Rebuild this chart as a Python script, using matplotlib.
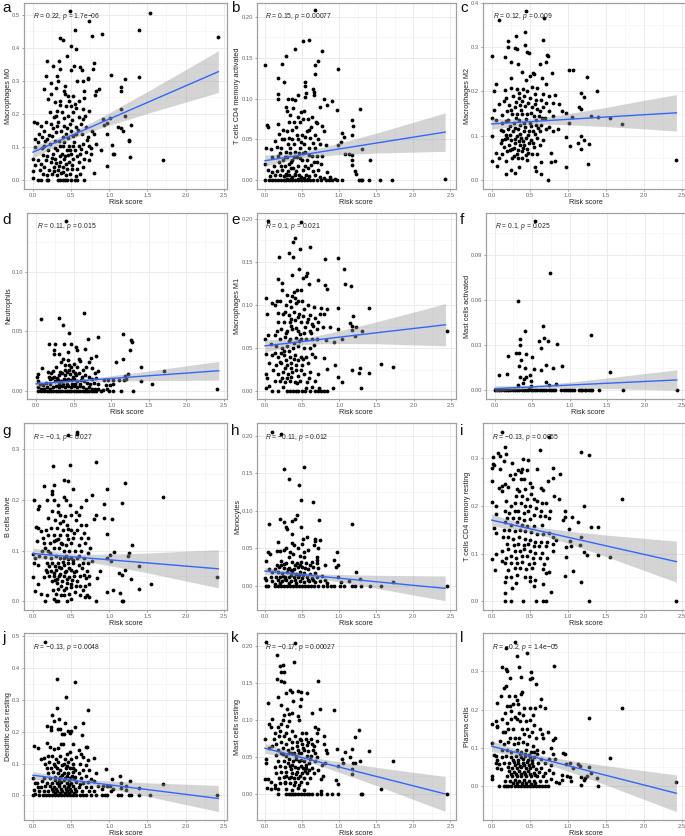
#!/usr/bin/env python3
"""Immune cell fractions against risk score, twelve scatter panels with linear fits."""

import matplotlib

matplotlib.use("Agg")
import matplotlib.pyplot as plt  # noqa: E402

plt.rcParams["font.family"] = ["Liberation Sans", "DejaVu Sans"]
plt.rcParams["mathtext.fontset"] = "custom"
plt.rcParams["mathtext.rm"] = "Liberation Sans"
plt.rcParams["mathtext.it"] = "Liberation Sans:italic"

fit_x = [0.0, 0.25, 0.5, 0.75, 1.0, 1.5, 2.0, 2.43]
x_ticks = [0.0, 0.5, 1.0, 1.5, 2.0, 2.5]

a_points = [
    (.485, .512), (1.54, .506), (.735, .481), (.546, .454), (1.39, .455), (.90, .441), (.78, .435), (.36, .43),
    (.39, .423), (2.42, .432), (.494, .405), (.57, .397), (.44, .376), (.19, .361), (.336, .359), (.795, .355),
    (.26, .346), (.54, .346), (.62, .341), (.354, .337), (.50, .333), (.64, .333), (.787, .335), (1.02, .319),
    (1.39, .312), (.175, .315), (.32, .315), (.72, .31), (1.21, .306), (1.16, .283), (1.16, .27), (.87, .276),
    (.83, .27), (.81, .259), (.14, .277), (1.15, .215), (1.205, .193), (.92, .184), (1.01, .187), (.965, .174),
    (.935, .166), (1.12, .162), (1.16, .158), (1.29, .167), (1.175, .148), (.97, .139), (1.03, .107),
    (1.255, .122), (1.26, .119), (1.065, .08), (1.055, .078), (1.275, .071), (1.705, .061), (.97, .042),
    (.80, .023), (.89, .09), (.23, .295), (.33, .30), (.42, .285), (.40, .27), (.46, .255), (.52, .255),
    (.58, .30), (.65, .30), (.67, .27), (.72, .305), (.30, .28), (.20, .245), (.23, .26), (.36, .24), (.43, .225),
    (.50, .225), (.55, .23), (.60, .24), (.65, .215), (.74, .21), (.68, .195), (.60, .19), (.53, .205),
    (.46, .195), (.38, .205), (.32, .21), (.22, .205), (.27, .19), (.17, .175), (.01, .175), (.05, .172),
    (.11, .165), (.15, .15), (.24, .17), (.33, .175), (.41, .165), (.48, .17), (.56, .16), (.63, .17),
    (.70, .16), (.77, .15), (.80, .14), (.72, .13), (.64, .14), (.57, .14), (.50, .15), (.43, .14), (.37, .15),
    (.30, .145), (.25, .135), (.18, .125), (.12, .13), (.08, .14), (.03, .125), (.02, .10), (.07, .115),
    (.15, .105), (.22, .11), (.29, .12), (.35, .105), (.41, .115), (.47, .105), (.54, .115), (.60, .105),
    (.66, .11), (.73, .105), (.83, .11), (.76, .08), (.69, .085), (.62, .08), (.55, .09), (.50, .08),
    (.44, .09), (.38, .08), (.32, .09), (.26, .08), (.20, .09), (.13, .075), (.07, .06), (.0, .065), (.03, .045),
    (.11, .05), (.17, .06), (.23, .055), (.29, .065), (.35, .055), (.41, .065), (.47, .055), (.53, .065),
    (.60, .055), (.67, .065), (.74, .06), (.65, .04), (.58, .035), (.51, .045), (.45, .035), (.39, .04),
    (.33, .03), (.27, .04), (.21, .03), (.15, .04), (.09, .03), (.0, .028), (.0, .006), (.13, .02), (.19, .015),
    (.25, .02), (.31, .015), (.37, .022), (.43, .015), (.49, .02), (.56, .012), (.62, .02), (.07, 0), (.10, 0),
    (.18, 0), (.20, 0), (.33, 0), (.36, 0), (.39, 0), (.42, 0), (.45, 0), (.50, 0), (.55, 0), (.58, 0), (.67, 0),
    (.415, .073), (.347, .118), (.462, .128), (.283, .098), (.188, .073), (.518, .103), (.357, .072), (.428, .048),
    (.305, .052), (.243, .067), (.481, .092), (.394, .103), (.337, .043), (.453, .077), (.272, .027), (.392, .026),
    (.515, .033), (.577, .073), (.623, .094), (.703, .122), (.763, .098), (.124, .097), (.163, .118), (.216, .138),
    (.268, .157), (.316, .163), (.392, .132), (.447, .158), (.527, .134), (.594, .152), (.655, .186), (.308, .195),
    (.425, .262), (.476, .238), (.349, .228), (.563, .218), (.292, .237), (.664, .248), (.404, .187), (.513, .183),
]
a_line = [.085, .110, .135, .16, .185, .235, .285, .328]
a_upper = [.103, .123, .145, .173, .204, .268, .334, .391]
a_lower = [.067, .097, .125, .147, .166, .202, .236, .265]

b_points = [
    (.67, .208), (.51, .17), (.6, .172), (.41, .161), (.77, .158), (.29, .152), (.72, .146), (.23, .143),
    (.67, .141), (0, .141), (.985, .136), (.67, .13), (.18, .125), (.255, .121), (.54, .12), (.535, .115),
    (.65, .112), (.66, .108), (.55, .107), (.175, .106), (.45, .105), (.175, .1), (.31, .1), (.365, .1),
    (.4, .098), (.54, .102), (.66, .104), (.8, .099), (.9, .097), (.83, .092), (.74, .09), (1.28, .087),
    (.975, .086), (1.18, .074), (1.19, .067), (1.18, .056), (1.035, .058), (1.07, .053), (.985, .043),
    (1.02, .047), (1.31, .038), (1.085, .032), (1.14, .032), (1.17, .031), (1.18, .025), (1.41, .025),
    (1.175, .019), (1.22, .012), (1.23, .008), (1.27, 0), (1.29, 0), (1.31, 0), (1.4, 0), (1.55, 0), (1.71, 0),
    (1.04, 0), (.97, 0), (2.43, .001), (.03, .068), (.04, .065), (.17, .069), (.0, .02), (.02, .039),
    (.08, .038), (.14, .048), (.19, .057), (.23, .05), (.29, .09), (.3, .085), (.34, .08), (.38, .088),
    (.44, .078), (.48, .084), (.53, .085), (.58, .075), (.64, .078), (.7, .07), (.77, .067), (.8, .06),
    (.3, .06), (.36, .062), (.42, .065), (.5, .055), (.56, .06), (.62, .065), (.67, .055), (.72, .05),
    (.26, .05), (.33, .052), (.39, .045), (.45, .05), (.53, .045), (.6, .04), (.68, .04), (.74, .045),
    (.82, .043), (.22, .04), (.28, .035), (.34, .04), (.41, .035), (.47, .04), (.54, .035), (.63, .03),
    (.7, .03), (.77, .03), (.1, .028), (.17, .03), (.24, .025), (.3, .028), (.37, .025), (.43, .028),
    (.5, .025), (.57, .025), (.66, .022), (.75, .02), (.04, .013), (.1, .01), (.16, .012), (.21, .018),
    (.27, .017), (.32, .02), (.38, .015), (.44, .018), (.51, .013), (.58, .015), (.65, .012), (.72, .013),
    (.83, .01), (.88, .004), (.95, .002), (.07, .005), (.14, .006), (.2, .007), (.25, .005), (.29, .008),
    (.33, .007), (.36, .004), (.4, .008), (.46, .006), (.49, .004), (.55, .007), (.6, .005), (.68, .006),
    (.74, .004), (.8, .003), (.0, 0), (.05, 0), (.09, 0), (.13, 0), (.17, 0), (.21, 0), (.25, 0), (.29, 0),
    (.33, 0), (.37, 0), (.41, 0), (.45, 0), (.49, 0), (.53, 0), (.57, 0), (.61, 0), (.65, 0), (.7, 0), (.76, 0),
    (.82, 0), (.86, 0), (.9, 0),
    (.314, .011), (.352, .023), (.416, .012), (.468, .027), (.277, .006), (.228, .013), (.186, .023), (.126, .018),
    (.335, .034), (.396, .029), (.452, .033), (.512, .034), (.268, .028), (.305, .044), (.364, .051), (.427, .055),
    (.487, .047), (.546, .053), (.607, .052), (.653, .046), (.328, .072), (.386, .071), (.473, .072), (.512, .075),
    (.594, .062), (.684, .072), (.248, .061), (.164, .041), (.206, .033), (.587, .031), (.533, .018), (.624, .019),
    (.705, .022), (.348, .015), (.406, .006), (.527, .003), (.296, .002), (.354, .002), (.44, .002), (.575, .002),
]
b_line = [.024, .0276, .0312, .0348, .0384, .0456, .0528, .059]
b_upper = [.031, .0325, .035, .0397, .0455, .0578, .0711, .0825]
b_lower = [.0172, .0227, .0274, .0299, .0313, .0334, .0345, .0355]

c_points = [
    (.457, .382), (.1, .361), (.69, .365), (.435, .335), (.32, .325), (.68, .317), (.21, .314), (.435, .305),
    (.22, .301), (.31, .299), (.33, .296), (0, .281), (.17, .277), (.46, .29), (.49, .287), (.73, .283),
    (.74, .28), (.255, .267), (.715, .267), (.34, .263), (.64, .261), (1.02, .249), (1.07, .249), (1.26, .233),
    (.79, .241), (.54, .242), (.395, .244), (1.39, .2), (1.17, .197), (1.215, .187), (1.155, .166), (1.17, .16),
    (.98, .152), (.92, .157), (1.055, .142), (1.3, .144), (1.395, .143), (1.55, .14), (1.715, .127), (2.43, .046),
    (1.02, .128), (.975, .097), (1.17, .1), (1.21, .091), (1.13, .085), (1.03, .078), (1.18, .07), (1.285, .081),
    (1.27, .037), (.975, .029), (.74, 0), (.645, .015), (.585, .021), (.575, .029), (.185, .0135), (.255, .023),
    (.3, .017), (.365, .029), (.01, .043), (.075, .032), (.185, .044), (.78, .041), (.83, .043), (.65, .041),
    (.01, .1), (.26, .23), (.5, .235), (.55, .24), (.45, .225), (.66, .23), (.71, .218), (.05, .217), (.03, .202),
    (.17, .203), (.25, .208), (.33, .205), (.41, .205), (.47, .2), (.53, .21), (.6, .208), (.68, .195), (.75, .19),
    (.83, .192), (.19, .185), (.28, .19), (.36, .185), (.43, .19), (.51, .185), (.58, .18), (.65, .18), (.72, .175),
    (.8, .175), (.89, .172), (.09, .172), (.16, .178), (.23, .17), (.3, .165), (.37, .17), (.44, .168), (.53, .165),
    (.6, .16), (.68, .165), (.76, .155), (.03, .158), (.0, .14), (.05, .135), (.14, .148), (.2, .155), (.27, .15),
    (.33, .15), (.4, .15), (.47, .15), (.55, .145), (.62, .145), (.7, .14), (.8, .145), (.13, .13), (.22, .135),
    (.29, .13), (.36, .135), (.43, .13), (.5, .13), (.58, .125), (.65, .125), (.75, .12), (.87, .115), (.15, .11),
    (.21, .115), (.28, .11), (.35, .115), (.42, .11), (.49, .11), (.57, .105), (.64, .11), (.71, .115), (.8, .11),
    (.14, .09), (.2, .095), (.26, .09), (.33, .1), (.39, .095), (.45, .095), (.52, .09), (.6, .095), (.68, .09),
    (.16, .075), (.23, .08), (.3, .085), (.37, .08), (.43, .08), (.49, .085), (.56, .075), (.63, .08), (.06, .062),
    (.1, .05), (.14, .06), (.2, .065), (.27, .07), (.33, .06), (.4, .065), (.46, .07), (.53, .06), (.6, .06),
    (.27, .05), (.34, .05), (.4, .05), (.46, .045), (.78, .062),
    (.316, .141), (.384, .158), (.452, .137), (.517, .152), (.243, .122), (.305, .118), (.372, .124), (.436, .119),
    (.512, .122), (.586, .136), (.658, .141), (.182, .103), (.245, .101), (.312, .093), (.374, .104), (.418, .088),
    (.476, .102), (.541, .112), (.613, .118), (.173, .092), (.235, .068), (.296, .072), (.355, .088), (.414, .073),
    (.483, .061), (.546, .083), (.287, .055), (.352, .068), (.446, .058), (.254, .158), (.325, .176), (.403, .178),
    (.482, .174), (.568, .172), (.642, .155), (.127, .114), (.186, .134), (.357, .197), (.566, .194), (.118, .085),
]
c_line = [.127, .1296, .132, .1347, .1373, .1425, .1476, .152]
c_upper = [.139, .138, .139, .143, .15, .164, .18, .193]
c_lower = [.115, .121, .125, .126, .125, .121, .116, .111]

d_points = [
    (.40, .1425), (.06, .06), (.3, .061), (.635, .065), (.355, .055), (.44, .049), (1.16, .048), (.825, .045),
    (.695, .044), (1.265, .043), (1.275, .041), (.17, .039), (.25, .039), (.375, .039), (.465, .039), (.535, .037),
    (.655, .035), (1.255, .034), (.235, .034), (.54, .034), (.245, .031), (.305, .031), (.43, .033), (1.16, .027),
    (.8, .0295), (1.07, .024), (.57, .027), (1.39, .02), (1.7, .0165), (.08, .019), (.735, .028), (1.22, .014),
    (1.18, .0125), (1.39, .0085), (1.54, .006), (2.41, .0015), (1.29, 0), (1.125, 0), (.01, .012), (.02, .014),
    (.16, .016), (.2, .015), (.23, .017), (.27, .02), (.33, .024), (.36, .027), (.39, .022), (.42, .026),
    (.47, .02), (.5, .023), (.54, .02), (.58, .025), (.62, .018), (.67, .02), (.71, .024), (.75, .019), (.78, .015),
    (.82, .017), (.18, .01), (.24, .012), (.3, .013), (.35, .015), (.41, .016), (.45, .014), (.49, .017),
    (.53, .013), (.57, .015), (.61, .012), (.65, .013), (.7, .012), (.74, .01), (.8, .011), (.02, .008), (.05, .006),
    (.09, .005), (.13, .007), (.19, .006), (.25, .008), (.29, .009), (.33, .008), (.37, .01), (.4, .009), (.43, .01),
    (.47, .009), (.51, .01), (.55, .008), (.6, .009), (.64, .008), (.68, .007), (.72, .006), (.77, .007), (.82, .006),
    (.9, .009), (.96, .009), (1.02, .009), (1.1, .009), (1.17, .009), (1.2, .01), (.93, .005), (.99, .005), (1.03, .006),
    (.02, .003), (.06, .002), (.1, .002), (.15, .003), (.19, .002), (.22, .003), (.26, .004), (.3, .003), (.34, .004),
    (.38, .003), (.42, .004), (.46, .003), (.5, .004), (.54, .003), (.58, .004), (.62, .003), (.66, .002), (.7, .003),
    (.74, .002), (.78, .002), (.82, .002), (.89, .001), (.94, .002), (.02, 0), (.06, 0), (.11, 0), (.14, 0), (.17, 0),
    (.2, 0), (.23, 0), (.26, 0), (.29, 0), (.32, 0), (.35, 0), (.38, 0), (.41, 0), (.44, 0), (.47, 0), (.5, 0), (.53, 0),
    (.56, 0), (.59, 0), (.62, 0), (.65, 0), (.68, 0), (.71, 0), (.74, 0), (.77, 0), (.8, 0), (.87, 0), (.97, 0), (1.02, 0),
    (.274, .011), (.322, .016), (.387, .013), (.436, .018), (.489, .012), (.518, .015), (.443, .022), (.382, .018),
    (.217, .011), (.168, .012), (.312, .006), (.362, .006), (.417, .006), (.478, .006), (.523, .006), (.583, .006),
]
d_line = [.006, .0071, .0083, .0094, .0105, .0128, .015, .017]
d_upper = [.0083, .0087, .0095, .011, .0128, .0168, .0211, .0248]
d_lower = [.0037, .0055, .0071, .0078, .0082, .0088, .0089, .0092]

e_points = [
    (.035, .198), (.49, .196), (.405, .1775), (.38, .1735), (.6, .168), (.47, .165), (.32, .161), (.19, .1555),
    (.38, .1555), (.81, .1535), (.98, .1545), (1.065, .1415), (.46, .142), (.56, .137), (.36, .135), (.55, .134),
    (.175, .13), (.51, .131), (.72, .129), (.235, .126), (.59, .124), (1.08, .124), (1.16, .1225), (.81, .123),
    (.84, .1185), (.02, .108), (1.405, .096), (.98, .097), (.03, .09), (1.19, .0875), (1.145, .0795), (1.175, .0755),
    (1.225, .0745), (.98, .0725), (1.175, .071), (1.305, .07), (2.445, .0695), (1.035, .061), (1.215, .0635),
    (.935, .057), (.82, .059), (1.56, .0315), (1.725, .0275), (.945, .03), (1.28, .027), (1.175, .024), (1.265, .0205),
    (1.405, .021), (.98, .0165), (1.03, .011), (1.29, .0035), (.91, .003), (.18, 0), (.3, 0), (.33, 0), (.38, 0), (.42, 0),
    (.44, 0), (.5, 0), (.54, 0), (.6, 0), (.67, 0), (.72, 0), (.76, 0), (.8, 0), (.84, 0), (.095, 0), (.01, .003),
    (.23, .118), (.3, .112), (.36, .11), (.43, .118), (.48, .118), (.16, .105), (.2, .105), (.28, .1), (.35, .098),
    (.42, .102), (.5, .105), (.58, .1), (.66, .098), (.75, .097), (.83, .095), (.1, .102), (.13, .1), (.24, .09),
    (.32, .088), (.39, .092), (.46, .09), (.52, .095), (.6, .088), (.67, .085), (.74, .09), (.8, .09), (.18, .08),
    (.26, .08), (.33, .08), (.41, .082), (.49, .08), (.56, .08), (.63, .078), (.71, .08), (.16, .07), (.22, .072),
    (.3, .07), (.37, .072), (.44, .07), (.52, .068), (.6, .07), (.7, .072), (.78, .075), (.88, .075), (.04, .065),
    (.13, .065), (.2, .06), (.27, .063), (.34, .06), (.42, .062), (.48, .06), (.55, .06), (.63, .06), (.7, .06), (.0, .061),
    (.08, .055), (.15, .052), (.23, .05), (.3, .052), (.38, .05), (.45, .052), (.53, .05), (.6, .05), (.66, .053),
    (.01, .043), (.1, .042), (.18, .04), (.26, .042), (.33, .04), (.41, .042), (.48, .04), (.55, .04), (.63, .043),
    (.06, .032), (.15, .03), (.22, .032), (.29, .03), (.35, .033), (.42, .03), (.5, .03), (.58, .032), (.8, .038),
    (.02, .02), (.03, .015), (.17, .02), (.24, .022), (.31, .02), (.37, .022), (.44, .018), (.52, .02), (.6, .022),
    (.72, .02), (.84, .026), (.14, .012), (.2, .012), (.27, .01), (.34, .012), (.4, .01), (.47, .012), (.57, .01),
    (.67, .012), (.05, .006), (.24, .005), (.55, .004), (.63, .005), (.73, .004),
    (.286, .067), (.351, .076), (.416, .073), (.475, .066), (.542, .074), (.317, .058), (.392, .056), (.463, .058),
    (.255, .046), (.325, .046), (.394, .037), (.447, .036), (.518, .037), (.284, .036), (.356, .027), (.412, .024),
    (.487, .025), (.266, .027), (.197, .034), (.138, .044), (.215, .044), (.354, .084), (.438, .086), (.512, .087),
    (.582, .084), (.652, .076), (.272, .092), (.404, .108), (.622, .067), (.173, .091), (.336, .105), (.386, .115),
    (.448, .105), (.224, .015), (.353, .016), (.434, .009), (.298, .015), (.112, .024), (.587, .015), (.674, .04),
]
e_line = [.0525, .055, .0575, .0601, .0626, .0677, .0727, .077]
e_upper = [.0596, .0601, .0614, .0652, .07, .0804, .0918, .1015]
e_lower = [.0454, .0499, .0536, .055, .0552, .055, .0536, .0525]

f_points = [
    (.54, .113), (.74, .078), (.315, .0597), (.64, .043), (.4, .0396), (1.28, .037), (.66, .035), (.34, .034),
    (.585, .033), (.705, .033), (.825, .031), (.335, .03), (.62, .028), (.325, .025), (.29, .0245), (.175, .023),
    (.415, .024), (.5, .022), (.355, .02), (.33, .016), (.685, .017), (.9, .016), (.405, .0145), (.53, .014),
    (.62, .0135), (.775, .0145), (1.545, .012), (.165, .011), (.06, .01), (.47, .01), (.34, .009), (.415, .0085),
    (.395, .0075), (.375, .005), (.485, .006), (.68, .0055), (.315, .0035), (.73, .0033), (.82, .0038), (.48, .003),
    (.46, .001), (.0, 0), (.03, 0), (.06, 0), (.09, 0), (.12, 0), (.15, 0), (.18, 0), (.21, 0), (.24, 0), (.27, 0), (.3, 0),
    (.33, 0), (.36, 0), (.39, 0), (.42, 0), (.45, 0), (.48, 0), (.51, 0), (.54, 0), (.57, 0), (.6, 0), (.63, 0), (.66, 0),
    (.69, 0), (.72, 0), (.75, 0), (.78, 0), (.81, 0), (.88, 0), (.92, 0), (.95, 0), (.98, 0), (1.0, 0), (1.03, 0),
    (1.06, 0), (1.12, 0), (1.15, 0), (1.17, 0), (1.2, 0), (1.22, 0), (1.26, 0), (1.28, 0), (1.3, 0), (1.39, 0), (1.71, 0),
    (2.43, 0),
]
f_line = [.0009, .0015, .0021, .0027, .0033, .0045, .0057, .0067]
f_upper = [.0029, .0029, .0032, .0041, .0053, .008, .011, .0135]
f_lower = [-.0011, .0001, .001, .0013, .0013, .001, .0004, -.0001]

g_points = [
    (.58, .334), (.58, .33), (.465, .327), (.825, .274), (.485, .269), (.26, .2665), (.4, .239), (.46, .236),
    (1.205, .234), (.14, .228), (.27, .23), (.53, .221), (.245, .217), (.97, .221), (.78, .21), (.245, .211),
    (1.71, .206), (.4, .206), (.015, .2), (.695, .2), (.19, .2), (1.165, .194), (.935, .191), (.08, .188), (.06, .182),
    (.825, .17), (.805, .163), (.925, .165), (1.03, .162), (.97, .132), (1.295, .11), (1.065, .0965), (1.265, .0945),
    (1.25, .09), (1.015, .091), (.975, .086), (1.02, .079), (1.39, .07), (1.205, .062), (1.125, .0565), (1.165, .051),
    (1.28, .0445), (1.545, .035), (2.415, .047), (1.055, .023), (1.39, .024), (.965, .019), (1.145, .016), (1.165, 0),
    (1.18, 0), (.82, 0), (.155, 0), (0, .047), (.27, .2), (.33, .19), (.43, .2), (.48, .19), (.56, .175), (.6, .17),
    (.63, .185), (.25, .178), (.35, .17), (.42, .168), (.5, .17), (.2, .165), (.29, .16), (.36, .155), (.44, .15),
    (.56, .16), (.63, .15), (.7, .15), (.04, .147), (.06, .145), (.11, .138), (.17, .14), (.24, .145), (.32, .145),
    (.39, .14), (.5, .14), (.58, .14), (.67, .135), (.13, .125), (.2, .13), (.27, .13), (.35, .13), (.45, .13), (.52, .125),
    (.63, .125), (.72, .125), (.05, .118), (.15, .115), (.22, .115), (.3, .12), (.37, .115), (.43, .11), (.5, .115),
    (.6, .11), (.68, .115), (.75, .105), (.12, .1), (.2, .1), (.27, .105), (.34, .105), (.4, .1), (.47, .1), (.55, .1),
    (.63, .1), (.72, .095), (.0, .093), (.02, .085), (.08, .09), (.16, .088), (.24, .085), (.3, .09), (.36, .085),
    (.43, .09), (.5, .085), (.58, .085), (.67, .085), (.01, .076), (.07, .072), (.18, .075), (.25, .075), (.33, .075),
    (.39, .078), (.46, .075), (.53, .075), (.6, .072), (.72, .075), (.78, .08), (.17, .062), (.23, .06), (.3, .062),
    (.37, .065), (.43, .06), (.5, .062), (.57, .06), (.64, .065), (.71, .06), (.88, .06), (.14, .048), (.21, .05),
    (.28, .05), (.34, .05), (.4, .05), (.47, .048), (.54, .05), (.62, .05), (.69, .045), (.84, .045), (.06, .035),
    (.25, .04), (.32, .037), (.38, .04), (.44, .037), (.5, .035), (.58, .04), (.73, .035), (.03, .02), (.1, .015),
    (.19, .012), (.26, .022), (.33, .025), (.4, .022), (.47, .015), (.55, .018), (.65, .022), (.71, .012), (.27, .005),
    (.3, 0), (.33, 0), (.45, 0), (.5, .005), (.62, .012), (.68, .008), (.74, .008),
    (.352, .054), (.413, .057), (.477, .066), (.542, .057), (.284, .07), (.346, .068), (.403, .071), (.452, .043),
    (.514, .042), (.283, .041), (.361, .03), (.432, .027), (.498, .028), (.408, .086), (.461, .083), (.527, .082),
    (.188, .058), (.214, .07), (.272, .056), (.316, .044), (.383, .112), (.453, .122), (.332, .122), (.276, .118),
    (.544, .135), (.392, .158), (.322, .176), (.464, .142), (.605, .09), (.652, .075), (.152, .105), (.224, .095),
    (.296, .014), (.372, .012), (.56, .03), (.613, .03), (.678, .03), (.728, .05), (.664, .052), (.412, .012),
]
g_line = [.094, .0909, .0879, .0848, .0817, .0756, .0694, .064]
g_upper = [.1049, .0988, .0939, .0927, .093, .0951, .0987, .1015]
g_lower = [.0831, .083, .0819, .0769, .0704, .0561, .0401, .0265]

h_points = [
    (.1, .206), (.22, .203), (.25, .156), (.53, .1585), (.32, .1425), (.46, .134), (.49, .114), (.65, .112), (.43, .095),
    (.2, .0895), (.73, .088), (.405, .0885), (.365, .087), (.06, .083), (.26, .0845), (1.18, .082), (.485, .079), (.29, .079),
    (.3, .076), (.36, .069), (.56, .0655), (.515, .063), (.67, .063), (.68, .06), (.745, .0605), (.175, .058), (.37, .0565),
    (.505, .0555), (.665, .054), (.39, .0545), (.715, .051), (.29, .05), (.165, .047), (.975, .045), (.045, .045), (.07, .042),
    (.01, .033), (.695, .039), (.935, .034), (.985, .028), (.955, .025), (.81, .027), (1.225, .018), (1.73, .005), (1.28, .0085),
    (1.14, .0065), (2.45, 0), (1.565, 0), (1.41, 0), (1.295, 0), (1.215, 0), (1.17, 0), (1.06, 0), (1.015, 0), (.98, .011),
    (1.03, .005), (.2, .047), (.25, .048), (.34, .045), (.44, .05), (.52, .045), (.58, .048), (.22, .033), (.32, .038),
    (.38, .042), (.47, .04), (.52, .038), (.7, .035), (.16, .027), (.22, .028), (.29, .03), (.36, .032), (.43, .03), (.49, .032),
    (.55, .03), (.63, .032), (.7, .03), (.05, .022), (.13, .022), (.19, .025), (.26, .023), (.33, .024), (.39, .022), (.45, .025),
    (.5, .025), (.58, .022), (.65, .025), (.72, .023), (.1, .018), (.17, .018), (.23, .017), (.3, .018), (.37, .018), (.42, .016),
    (.47, .018), (.53, .017), (.61, .016), (.68, .017), (.77, .013), (.08, .012), (.15, .012), (.2, .011), (.27, .012),
    (.33, .012), (.39, .011), (.44, .012), (.5, .01), (.56, .012), (.63, .01), (.7, .011), (.81, .008), (.0, .01), (.02, .007),
    (.1, .006), (.17, .007), (.23, .006), (.29, .007), (.35, .006), (.41, .007), (.47, .006), (.53, .005), (.6, .006), (.67, .005),
    (.74, .006), (.83, .004), (.02, 0), (.04, 0), (.13, .002), (.14, 0), (.18, 0), (.22, 0), (.26, 0), (.3, 0), (.34, 0), (.38, 0),
    (.42, 0), (.46, 0), (.5, 0), (.54, 0), (.58, 0), (.62, 0), (.66, 0), (.72, 0), (.78, 0), (.84, 0), (.89, 0), (.93, 0),
    (.274, .009), (.318, .004), (.356, .014), (.412, .004), (.452, .014), (.514, .014), (.574, .008), (.642, .008), (.206, .004),
    (.244, .013), (.307, .022), (.406, .027), (.476, .028), (.543, .024), (.612, .027), (.254, .029), (.352, .021),
]
h_line = [.0195, .0171, .0148, .0124, .01, .0053, .0005, -.0035]
h_upper = [.0243, .0206, .0175, .0159, .015, .0139, .0134, .013]
h_lower = [.0147, .0136, .0121, .0089, .005, -.0033, -.0124, -.02]

i_points = [
    (.135, .355), (.175, .324), (.635, .317), (.75, .344), (1.18, .312), (1.285, .306), (.085, .31), (.115, .305), (.19, .308),
    (.02, .303), (.165, .294), (.415, .297), (.48, .296), (.02, .2875), (.03, .286), (.27, .289), (.01, .28), (.105, .276),
    (.8, .279), (.595, .278), (.895, .267), (.8, .258), (.745, .251), (.01, .252), (1.715, .215), (.82, .22), (.88, .214), (0, .208),
    (.05, .2), (1.21, .2), (.965, .189), (1.055, .176), (.965, .176), (1.13, .165), (.935, .17), (1.3, .156), (1.395, .156),
    (1.02, .151), (1.17, .135), (1.025, .127), (1.16, .118), (.98, .114), (1.04, .116), (1.215, .1025), (1.255, .096), (1.395, .096),
    (1.55, .0935), (.98, .093), (.97, .053), (1.07, .064), (1.17, .04), (.78, .02), (.175, .018), (2.43, 0), (1.275, 0), (.175, 0),
    (.25, 0), (.415, 0), (.58, 0), (.67, 0), (.71, 0), (.35, .275), (.38, .27), (.4, .278), (.47, .275), (.24, .265), (.3, .267),
    (.28, .255), (.38, .255), (.42, .256), (.5, .248), (.53, .24), (.65, .238), (.67, .232), (.09, .238), (.13, .23), (.14, .242),
    (.18, .245), (.21, .24), (.33, .235), (.36, .23), (.44, .235), (.52, .225), (.32, .22), (.4, .22), (.47, .215), (.55, .215),
    (.6, .21), (.66, .205), (.72, .205), (.19, .21), (.25, .2), (.31, .205), (.38, .205), (.44, .2), (.51, .2), (.58, .195), (.65, .19),
    (.77, .19), (.17, .19), (.23, .185), (.3, .19), (.35, .188), (.42, .185), (.48, .188), (.56, .18), (.63, .178), (.7, .178), (.75, .175),
    (.06, .182), (.2, .175), (.28, .175), (.36, .175), (.43, .17), (.5, .172), (.18, .165), (.25, .16), (.33, .165), (.4, .16), (.47, .158),
    (.56, .158), (.66, .16), (.03, .153), (.05, .143), (.16, .15), (.23, .15), (.3, .148), (.37, .15), (.44, .148), (.52, .145), (.6, .14),
    (.68, .14), (.76, .142), (.8, .135), (.15, .135), (.22, .135), (.28, .13), (.36, .135), (.44, .13), (.5, .128), (.57, .125), (.65, .125),
    (.73, .125), (.85, .128), (.2, .12), (.29, .118), (.35, .12), (.42, .118), (.48, .12), (.55, .115), (.62, .115), (.71, .115), (.8, .12),
    (.14, .105), (.22, .11), (.3, .105), (.37, .105), (.43, .11), (.5, .105), (.57, .102), (.66, .102), (.8, .105), (.05, .098), (.01, .088),
    (.13, .085), (.19, .09), (.26, .095), (.32, .09), (.4, .095), (.47, .095), (.54, .09), (.63, .09), (.73, .09), (.17, .08), (.25, .08),
    (.33, .08), (.4, .082), (.49, .078), (.56, .08), (.69, .078), (.04, .065), (.22, .065), (.3, .07), (.37, .07), (.45, .068), (.53, .07),
    (.67, .068), (.76, .062), (.19, .05), (.26, .05), (.33, .055), (.44, .05), (.5, .05), (.57, .045), (.71, .06), (.17, .04), (.32, .038),
    (.27, .027), (.55, .032), (.5, .042), (.67, .036),
]
i_line = [.17, .161, .152, .1432, .1342, .1163, .0984, .083]
i_upper = [.1825, .17, .1589, .1522, .1471, .1387, .1319, .126]
i_lower = [.1575, .152, .1451, .1342, .1213, .0939, .0649, .04]

j_points = [
    (.157, .482), (.31, .366), (.555, .356), (.43, .308), (.72, .269), (.32, .276), (.255, .252), (.66, .2285), (.345, .239),
    (.275, .235), (.415, .2275), (.19, .218), (.55, .216), (.24, .215), (.24, .2065), (.33, .2085), (.36, .2085), (.465, .202),
    (.5, .202), (.48, .197), (.405, .194), (.38, .192), (.645, .189), (.01, .155), (.18, .1635), (.065, .148), (.37, .162),
    (.525, .16), (.71, .153), (.8, .117), (.96, .082), (1.145, .061), (1.275, .044), (1.03, .051), (1.16, .04), (1.705, .037),
    (1.39, .024), (1.215, .028), (.92, .029), (.965, .028), (1.01, .03), (1.055, .019), (1.02, .014), (1.16, .023), (1.22, .017),
    (2.415, 0), (1.54, 0), (1.39, 0), (1.29, 0), (1.26, 0), (1.155, 0), (1.12, 0), (.975, 0), (.945, 0), (.9, 0), (.22, .152),
    (.27, .145), (.33, .15), (.39, .16), (.44, .13), (.48, .135), (.6, .142), (.63, .13), (.69, .152), (.1, .113), (.14, .118),
    (.2, .125), (.25, .125), (.3, .115), (.36, .125), (.42, .115), (.5, .115), (.56, .12), (.66, .12), (.72, .11), (.16, .1),
    (.21, .105), (.27, .1), (.33, .105), (.4, .1), (.46, .105), (.52, .1), (.62, .1), (.7, .095), (.18, .085), (.23, .085),
    (.31, .085), (.36, .08), (.43, .085), (.49, .085), (.55, .08), (.65, .08), (.73, .08), (.82, .07), (.2, .07), (.26, .072),
    (.33, .07), (.4, .07), (.46, .07), (.52, .072), (.6, .07), (.7, .062), (.0, .053), (.15, .055), (.22, .055), (.29, .058),
    (.36, .058), (.42, .055), (.48, .055), (.55, .058), (.63, .055), (.76, .05), (.8, .045), (.02, .038), (.05, .04), (.12, .045),
    (.18, .04), (.25, .04), (.31, .04), (.37, .042), (.44, .04), (.5, .04), (.57, .043), (.66, .04), (.72, .042), (.85, .03),
    (.01, .018), (.06, .025), (.1, .025), (.16, .028), (.22, .028), (.28, .027), (.34, .028), (.4, .028), (.46, .025), (.53, .028),
    (.6, .025), (.7, .027), (.76, .025), (.9, .02), (.02, .005), (.08, .012), (.14, .015), (.2, .015), (.26, .013), (.32, .015),
    (.38, .015), (.44, .012), (.5, .015), (.57, .012), (.64, .015), (.73, .013), (.8, .012), (.0, 0), (.08, 0), (.13, 0), (.17, 0),
    (.21, 0), (.25, 0), (.29, 0), (.33, 0), (.37, 0), (.41, 0), (.45, 0), (.49, 0), (.53, 0), (.57, 0), (.61, 0), (.65, 0), (.7, 0),
    (.76, 0), (.82, 0),
    (.294, .006), (.352, .006), (.416, .006), (.473, .006), (.533, .006), (.243, .021), (.302, .021), (.362, .021), (.427, .021),
    (.487, .019), (.552, .02), (.284, .048), (.347, .048), (.409, .047), (.471, .048), (.538, .05), (.381, .063), (.445, .062),
    (.505, .06), (.44, .092), (.377, .095), (.293, .092), (.526, .087), (.347, .034), (.476, .033), (.61, .034),
]
j_line = [.063, .0555, .048, .0405, .033, .018, .003, -.01]
j_upper = [.075, .0641, .0546, .0491, .0453, .0393, .035, .031]
j_lower = [.051, .0469, .0414, .0319, .0207, -.0033, -.029, -.051]

k_points = [
    (.015, .205), (.41, .204), (.165, .188), (.39, .1785), (.245, .1745), (.2, .173), (.215, .164), (.255, .164), (.16, .1555),
    (.21, .153), (.26, .151), (.715, .152), (.34, .14), (.29, .137), (.365, .138), (.44, .1385), (.49, .1375), (.56, .136), (.175, .131),
    (.48, .128), (.38, .125), (.045, .1225), (.215, .1205), (.47, .119), (.745, .115), (.935, .114), (.295, .115), (.64, .109), (.1, .101),
    (1.27, .086), (1.22, .077), (1.17, .0615), (.975, .0605), (1.085, .0565), (1.405, .058), (.835, .056), (1.145, .05), (1.035, .047),
    (1.28, .045), (1.73, .045), (1.185, .0425), (1.22, .042), (1.055, .042), (.81, .0425), (.99, .038), (1.18, .0345), (1.18, .027),
    (.96, .019), (.985, .0135), (1.565, .007), (1.295, 0), (1.31, 0), (2.45, 0), (.98, 0), (.91, 0), (.83, 0), (.26, .107), (.33, .108),
    (.36, .11), (.44, .105), (.46, .1), (.24, .1), (.32, .098), (.05, .094), (.08, .09), (.17, .09), (.22, .095), (.3, .092), (.68, .09),
    (.72, .088), (.14, .083), (.2, .085), (.28, .083), (.36, .085), (.5, .083), (.55, .083), (.7, .082), (.8, .079), (.12, .075), (.19, .078),
    (.25, .078), (.33, .075), (.4, .078), (.47, .075), (.55, .075), (.62, .075), (.7, .072), (.0, .075), (.15, .068), (.22, .07), (.29, .068),
    (.37, .07), (.43, .07), (.5, .068), (.58, .07), (.66, .065), (.79, .068), (.05, .062), (.1, .065), (.17, .06), (.24, .062), (.31, .06),
    (.37, .062), (.44, .06), (.51, .062), (.58, .058), (.65, .06), (.82, .06), (.15, .053), (.21, .055), (.29, .052), (.35, .055), (.42, .052),
    (.49, .055), (.56, .052), (.62, .052), (.7, .05), (.02, .047), (.02, .042), (.18, .045), (.25, .045), (.32, .048), (.38, .045), (.46, .045),
    (.53, .045), (.6, .042), (.68, .045), (.77, .04), (.13, .037), (.2, .038), (.27, .037), (.34, .038), (.41, .037), (.48, .038), (.55, .035),
    (.63, .035), (.72, .033), (.15, .028), (.22, .03), (.29, .03), (.36, .028), (.43, .03), (.5, .028), (.57, .028), (.66, .028), (.19, .022),
    (.26, .023), (.32, .022), (.39, .022), (.45, .022), (.52, .022), (.61, .022), (.78, .025), (.0, .021), (.04, .02), (.08, .017), (.14, .013),
    (.2, .015), (.27, .015), (.34, .015), (.41, .016), (.48, .016), (.56, .015), (.75, .02), (.03, .009), (.08, .007), (.14, .009), (.17, .007),
    (.29, .007), (.36, .006), (.44, .008), (.52, .006), (.76, .005), (.17, 0), (.29, 0), (.32, 0), (.35, 0), (.38, 0), (.41, 0), (.45, 0), (.48, 0),
    (.52, 0), (.56, 0), (.6, 0), (.64, 0), (.7, 0), (.76, 0),
    (.304, .042), (.362, .04), (.423, .047), (.487, .046), (.547, .04), (.283, .024), (.353, .023), (.414, .027), (.477, .024), (.538, .031),
    (.596, .033), (.243, .054), (.326, .056), (.395, .056), (.462, .056), (.532, .059), (.613, .047), (.672, .055), (.353, .034), (.446, .035),
    (.513, .035), (.427, .065), (.492, .073), (.563, .066), (.63, .068), (.273, .017), (.393, .012), (.462, .012),
]
k_line = [.062, .0557, .0494, .043, .0367, .0241, .0114, .0005]
k_upper = [.0688, .0606, .0532, .0479, .0438, .0363, .0297, .024]
k_lower = [.0552, .0508, .0456, .0381, .0296, .0119, -.0069, -.023]

l_points = [
    (.30, .3775), (.185, .36), (.46, .347), (.33, .339), (.825, .313), (.13, .312), (.36, .31), (.19, .305), (.195, .302), (.515, .299),
    (.38, .286), (.525, .2825), (.51, .279), (.235, .2815), (.585, .266), (.185, .2625), (.165, .2555), (.395, .247), (1.715, .205),
    (1.275, .179), (1.55, .074), (2.425, .0095), (1.395, 0), (1.17, .002), (1.39, .022), (1.285, .05), (1.3, .035), (1.255, .026),
    (1.22, .017), (1.17, .024), (1.23, .022), (1.165, .052), (1.13, .0575), (1.07, .047), (1.025, .061), (.98, .058), (.97, .083),
    (.94, .087), (.985, .027), (.93, .028), (1.03, .024), (1.04, .012), (.93, .017), (.89, .007), (.645, .227), (.7, .205), (.64, .209),
    (.01, .163), (.05, .171), (.075, .157), (.01, .112), (.075, .216), (.125, .235), (.0, .0175), (.01, .026), (.23, .235), (.31, .235),
    (.33, .225), (.38, .24), (.2, .21), (.24, .21), (.28, .215), (.34, .215), (.43, .205), (.5, .205), (.57, .205), (.18, .19), (.25, .195),
    (.3, .18), (.36, .19), (.41, .185), (.54, .185), (.13, .175), (.2, .165), (.26, .175), (.33, .175), (.37, .17), (.45, .17), (.5, .172),
    (.56, .16), (.63, .15), (.07, .155), (.15, .14), (.22, .15), (.28, .15), (.4, .15), (.47, .15), (.53, .14), (.66, .135), (.74, .14),
    (.18, .14), (.24, .125), (.31, .125), (.36, .125), (.43, .135), (.49, .13), (.58, .125), (.67, .125), (.8, .12), (.83, .125),
    (.11, .118), (.16, .11), (.22, .115), (.29, .11), (.35, .112), (.41, .115), (.47, .11), (.54, .105), (.6, .095), (.78, .1), (.03, .082),
    (.05, .078), (.14, .095), (.2, .095), (.26, .09), (.33, .095), (.39, .09), (.45, .095), (.52, .09), (.59, .085), (.68, .09), (.8, .085),
    (.07, .068), (.13, .075), (.19, .078), (.25, .075), (.32, .078), (.38, .075), (.44, .078), (.5, .075), (.56, .075), (.65, .07), (.75, .07),
    (.83, .07), (.05, .06), (.1, .058), (.16, .06), (.23, .06), (.29, .062), (.35, .06), (.41, .06), (.47, .062), (.53, .06), (.61, .06),
    (.7, .06), (.78, .055), (.07, .048), (.12, .045), (.21, .05), (.27, .048), (.33, .047), (.39, .05), (.45, .047), (.51, .047), (.58, .045),
    (.65, .047), (.75, .043), (.23, .038), (.29, .036), (.36, .038), (.42, .036), (.48, .038), (.55, .035), (.62, .036), (.7, .035), (.8, .035),
    (.2, .025), (.27, .025), (.33, .027), (.38, .025), (.45, .026), (.52, .025), (.59, .025), (.67, .025), (.78, .018), (.17, .012), (.24, .014),
    (.3, .015), (.36, .014), (.42, .015), (.49, .014), (.55, .014), (.63, .013), (.72, .012), (.84, .01), (.09, 0), (.16, 0), (.19, 0), (.22, 0),
    (.26, 0), (.3, 0), (.34, 0), (.38, 0), (.42, 0), (.46, 0), (.5, 0), (.54, 0), (.58, 0), (.62, 0), (.66, 0), (.7, 0), (.74, 0),
    (.276, .007), (.335, .008), (.396, .007), (.455, .008), (.516, .006), (.574, .007), (.253, .032), (.316, .032), (.379, .031), (.442, .032),
    (.505, .031), (.574, .03), (.304, .054), (.366, .053), (.428, .054), (.486, .055), (.545, .052), (.278, .068), (.345, .069), (.415, .07),
    (.477, .069), (.535, .068), (.368, .083), (.432, .085), (.492, .082), (.562, .088),
]
l_line = [.104, .0914, .0787, .0661, .0534, .0281, .0028, -.019]
l_upper = [.118, .1015, .0864, .0762, .0678, .0531, .0402, .029]
l_lower = [.09, .0813, .071, .056, .039, .0031, -.0346, -.067]

W, H = 685, 836
COL = [(24, 227, 33, 223.7), (256.7, 455.5, 265, 450.3), (483, 689, 491.7, 681.7)]
COL_D = [(27.3, 227, 36, 224), (256.7, 455.5, 265, 450.7), (486, 689, 494.7, 682)]
LETTER_X = [2, 231, 460]


def draw_panel(letter, col, letter_y, top, bottom, tick_px, y_ticks, points, line, upper, lower, ylabel, stats, stat_pos, fmt):
    left, right, x0_px, x25_px = col
    ax = plt.axes([left / W, 1 - bottom / H, (right - left) / W, (bottom - top) / H])

    ax.set_xticks(x_ticks)
    ax.set_yticks(y_ticks)
    ax.set_yticklabels([fmt.format(v) for v in y_ticks])
    step = y_ticks[1] - y_ticks[0]
    ax.set_xticks([v + 0.25 for v in x_ticks], minor=True)
    ax.set_yticks([y_ticks[0] + step * (i + 0.5) for i in range(-1, len(y_ticks) + 1)], minor=True)
    # axis limits come from where two ticks sit in the reference
    x_per_px = 2.5 / (x25_px - x0_px)
    y_per_px = (y_ticks[-1] - y_ticks[0]) / (tick_px[0] - tick_px[1])
    ax.set_xlim((left - x0_px) * x_per_px, (right - x0_px) * x_per_px)
    ax.set_ylim(y_ticks[0] - (bottom - tick_px[0]) * y_per_px, y_ticks[0] + (tick_px[0] - top) * y_per_px)

    ax.grid(True, which="major", color="#ebebeb", linewidth=0.7, zorder=0)
    ax.grid(True, which="minor", color="#f2f2f2", linewidth=0.4, zorder=0)
    ax.set_axisbelow(True)
    ax.tick_params(which="major", length=1.5, width=0.4, color="#555555", labelcolor="#666666", labelsize=4.2, pad=1.2)
    ax.tick_params(which="minor", length=0)
    for spine in ax.spines.values():
        spine.set_color("#a0a0a0")
        spine.set_linewidth(0.9)

    ax.scatter([p[0] for p in points], [p[1] for p in points], s=7.5, color="black", linewidths=0, zorder=2)
    ax.fill_between(fit_x, lower, upper, color="#999999", alpha=0.42, linewidth=0, zorder=3)
    ax.plot(fit_x, line, color="#3366ff", linewidth=1.0, zorder=4)

    ax.set_xlabel("Risk score", fontsize=5.2, color="#222222", labelpad=0.8)
    ax.set_ylabel(ylabel, fontsize=5.2, color="#222222", labelpad=0)
    ax.text(stat_pos[0], stat_pos[1], stats, fontsize=4.9, color="#222222", ha="left", va="center", zorder=5)
    column = 0 if left < 100 else (1 if left < 300 else 2)
    plt.figtext(LETTER_X[column] / W, 1 - letter_y / H, letter, fontsize=11, ha="left", va="center", color="#111111")


fig = plt.figure(figsize=(W / 100, H / 100), dpi=100)

draw_panel("a", COL[0], 7.5, 2.7, 189, (180.3, 14.7), [0.0, 0.1, 0.2, 0.3, 0.4, 0.5], a_points, a_line, a_upper, a_lower,
           "Macrophages M0", r"$\mathit{R}$ = 0.22, $\mathit{p}$ = 1.7e−06", (0.0, .495), "{:.1f}")
draw_panel("b", COL[1], 7.5, 2.7, 189, (180.3, 17), [0.0, 0.05, 0.10, 0.15, 0.20], b_points, b_line, b_upper, b_lower,
           "T cells CD4 memory activated", r"$\mathit{R}$ = 0.15, $\mathit{p}$ = 0.00077", (0.0, .2), "{:.2f}")
draw_panel("c", COL[2], 7.5, 2.7, 189, (180.3, 2.7), [0.0, 0.1, 0.2, 0.3, 0.4], c_points, c_line, c_upper, c_lower,
           "Macrophages M2", r"$\mathit{R}$ = 0.12, $\mathit{p}$ = 0.009", (0.015, .37), "{:.1f}")
draw_panel("d", COL_D[0], 220, 212.7, 399.3, (391, 271.7), [0.0, 0.05, 0.10], d_points, d_line, d_upper, d_lower,
           "Neutrophils", r"$\mathit{R}$ = 0.11, $\mathit{p}$ = 0.015", (0.01, .138), "{:.2f}")
draw_panel("e", COL_D[1], 220, 212.7, 399.3, (391, 219), [0.0, 0.05, 0.10, 0.15, 0.20], e_points, e_line, e_upper, e_lower,
           "Macrophages M1", r"$\mathit{R}$ = 0.1, $\mathit{p}$ = 0.021", (0.0, .191), "{:.2f}")
draw_panel("f", COL_D[2], 220, 212.7, 399.3, (390, 255.3), [0.0, 0.03, 0.06, 0.09], f_points, f_line, f_upper, f_lower,
           "Mast cells activated", r"$\mathit{R}$ = 0.1, $\mathit{p}$ = 0.025", (0.01, .109), "{:.2f}")
draw_panel("g", COL[0], 431, 423.3, 610, (601.3, 449), [0.0, 0.1, 0.2, 0.3], g_points, g_line, g_upper, g_lower,
           "B cells naive", r"$\mathit{R}$ = −0.1, $\mathit{p}$ = 0.027", (0.0, .323), "{:.1f}")
draw_panel("h", COL[1], 431, 423.3, 610, (585.7, 436), [0.0, 0.05, 0.10, 0.15, 0.20], h_points, h_line, h_upper, h_lower,
           "Monocytes", r"$\mathit{R}$ = −0.11, $\mathit{p}$ = 0.012", (0.0, .198), "{:.2f}")
draw_panel("i", COL[2], 431, 423.3, 610, (601.3, 458), [0.0, 0.1, 0.2, 0.3], i_points, i_line, i_upper, i_lower,
           "T cells CD4 memory resting", r"$\mathit{R}$ = −0.13, $\mathit{p}$ = 0.0055", (0.01, .343), "{:.1f}")
draw_panel("j", COL[0], 638, 633.3, 820, (795.3, 636.3), [0.0, 0.1, 0.2, 0.3, 0.4, 0.5], j_points, j_line, j_upper, j_lower,
           "Dendritic cells resting", r"$\mathit{R}$ = −0.13, $\mathit{p}$ = 0.0048", (0.0, .465), "{:.1f}")
draw_panel("k", COL[1], 638, 633.3, 820, (794.3, 645.7), [0.0, 0.05, 0.10, 0.15, 0.20], k_points, k_line, k_upper, k_lower,
           "Mast cells resting", r"$\mathit{R}$ = −0.17, $\mathit{p}$ = 0.00027", (0.0, .198), "{:.2f}")
draw_panel("l", COL[2], 638, 633.3, 820, (786, 671.3), [0.0, 0.1, 0.2, 0.3], l_points, l_line, l_upper, l_lower,
           "Plasma cells", r"$\mathit{R}$ = −0.2, $\mathit{p}$ = 1.4e−05", (0.01, .363), "{:.1f}")

fig.savefig("out.png", dpi=100)
